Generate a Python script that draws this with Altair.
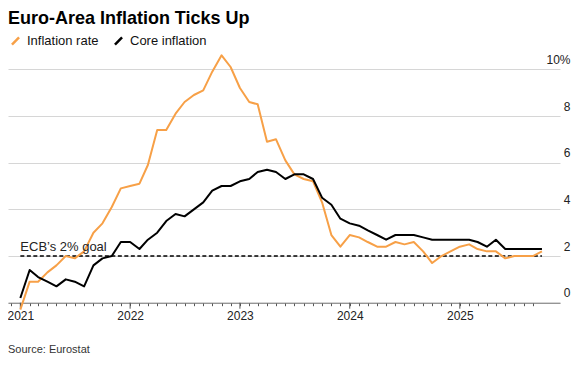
import altair as alt
import pandas as pd

FONT = "Liberation Sans"
ORANGE = "#F7A047"
PLOT_W = 552
PLOT_H = 256.7

# Monthly readings, Dec 2020 .. Sep 2025 (annual % change)
months = pd.period_range("2020-12", "2025-09", freq="M")
inflation = [-0.3, 0.9, 0.9, 1.3, 1.6, 2.0, 1.9, 2.2, 3.0, 3.4, 4.1, 4.9, 5.0,
             5.1, 5.9, 7.4, 7.4, 8.1, 8.6, 8.9, 9.1, 9.9, 10.6, 10.1, 9.2,
             8.6, 8.5, 6.9, 7.0, 6.1, 5.5, 5.3, 5.2, 4.3, 2.9, 2.4, 2.9,
             2.8, 2.6, 2.4, 2.4, 2.6, 2.5, 2.6, 2.2, 1.7, 2.0, 2.2, 2.4,
             2.5, 2.3, 2.2, 2.2, 1.9, 2.0, 2.0, 2.0, 2.2]
core = [0.2, 1.4, 1.1, 0.9, 0.7, 1.0, 0.9, 0.7, 1.6, 1.9, 2.0, 2.6, 2.6,
        2.3, 2.7, 3.0, 3.5, 3.8, 3.7, 4.0, 4.3, 4.8, 5.0, 5.0, 5.2,
        5.3, 5.6, 5.7, 5.6, 5.3, 5.5, 5.5, 5.3, 4.5, 4.2, 3.6, 3.4,
        3.3, 3.1, 2.9, 2.7, 2.9, 2.9, 2.9, 2.8, 2.7, 2.7, 2.7, 2.7,
        2.7, 2.6, 2.4, 2.7, 2.3, 2.3, 2.3, 2.3, 2.3]
series_names = ["Inflation rate", "Core inflation"]
years = [2021, 2022, 2023, 2024, 2025]
goal = 2
goal_label = "ECB\u2019s 2% goal"
title_text = "Euro-Area Inflation Ticks Up"
source_text = "Source: Eurostat"

# readings are plotted at the end of their month
dates = (months + 1).to_timestamp()
df = pd.DataFrame({
    "date": list(dates) * 2,
    "value": inflation + core,
    "series": [series_names[0]] * len(inflation) + [series_names[1]] * len(core),
})

tick_values = [alt.DateTime(year=p.year, month=p.month, date=1) for p in months]

xscale = alt.Scale(domain=[alt.DateTime(year=2020, month=11, date=21),
                           alt.DateTime(year=2025, month=11, date=30)])
yscale = alt.Scale(domain=[0, 11], nice=False, zero=False)

xaxis = alt.Axis(
    title=None, values=tick_values, grid=False,
    domain=True, domainColor="#777777", domainWidth=1,
    ticks=True, tickColor="#555555", tickWidth=1, tickSize=3,
    labelExpr="month(datum.value) == 0 ? timeFormat(datum.value, '%Y') : ''",
    labelOverlap=False, labelFlush=False, labelFont=FONT, labelFontSize=12,
    labelColor="#222222", labelPadding=5, labelBaseline="top", labelAlign="center",
)
yaxis = alt.Axis(
    title=None, orient="right", values=[0, 2, 4, 6, 8, 10],
    domain=False, ticks=False, grid=True, gridColor="#d6d6d6", gridWidth=1,
    labelExpr="datum.value == 10 ? '10%' : datum.label",
    labelAlign="right", labelBaseline="alphabetic", labelPadding=10, labelOffset=-6,
    labelFont=FONT, labelFontSize=12, labelColor="#222222",
)

xenc = alt.X("date:T", scale=xscale, axis=xaxis)
yenc = alt.Y("value:Q", scale=yscale, axis=yaxis)

lines = alt.Chart(df).mark_line(strokeWidth=2, strokeJoin="round").encode(
    x=xenc, y=yenc,
    color=alt.Color("series:N",
                    scale=alt.Scale(domain=series_names, range=[ORANGE, "#000000"]),
                    legend=alt.Legend(title=None, orient="none", legendX=1, legendY=-12,
                                      direction="horizontal", symbolType="M-1,1L1,-1",
                                      symbolSize=50, symbolStrokeWidth=2.5,
                                      labelFont=FONT, labelFontSize=13, labelColor="#111111",
                                      labelOffset=5, columnPadding=10, padding=0)),
)

# longer ticks marking the start of each year
year_df = pd.DataFrame({"date": [pd.Timestamp(year=y, month=1, day=1) for y in years]})
year_ticks = alt.Chart(year_df).mark_rule(color="#555555", strokeWidth=1).encode(
    x=xenc, y=alt.value(PLOT_H), y2=alt.value(PLOT_H + 6))

goal_df = pd.DataFrame({"date": [dates[0]], "date_end": [dates[-1]], "value": [goal],
                        "label": [goal_label]})
goal_rule = alt.Chart(goal_df).mark_rule(color="#000000", strokeWidth=1.6,
                                         strokeDash=[4, 2.5]).encode(
    x=xenc, x2="date_end:T", y=yenc)
goal_text = alt.Chart(goal_df).mark_text(align="left", baseline="alphabetic", dy=-5,
                                         font=FONT, fontSize=13, color="#222222").encode(
    x=xenc, y=yenc, text="label:N")

title = alt.Chart(pd.DataFrame({"t": [title_text]})).mark_text(
    align="left", baseline="alphabetic", font=FONT, fontSize=18, fontWeight="bold",
    color="#000000").encode(x=alt.value(0), y=alt.value(-22), text="t:N")
source = alt.Chart(pd.DataFrame({"t": [source_text]})).mark_text(
    align="left", baseline="alphabetic", font=FONT, fontSize=11,
    color="#333333").encode(x=alt.value(0), y=alt.value(307), text="t:N")

chart = alt.layer(goal_rule, year_ticks, lines, goal_text, title, source).properties(
    width=PLOT_W, height=PLOT_H,
    autosize=alt.AutoSizeParams(type="none"),
    padding={"left": 0, "top": 38, "right": 11, "bottom": 56},
    background="white",
).configure_view(stroke=None)

chart.save("out.html", embed_options={"renderer": "svg", "actions": False})
